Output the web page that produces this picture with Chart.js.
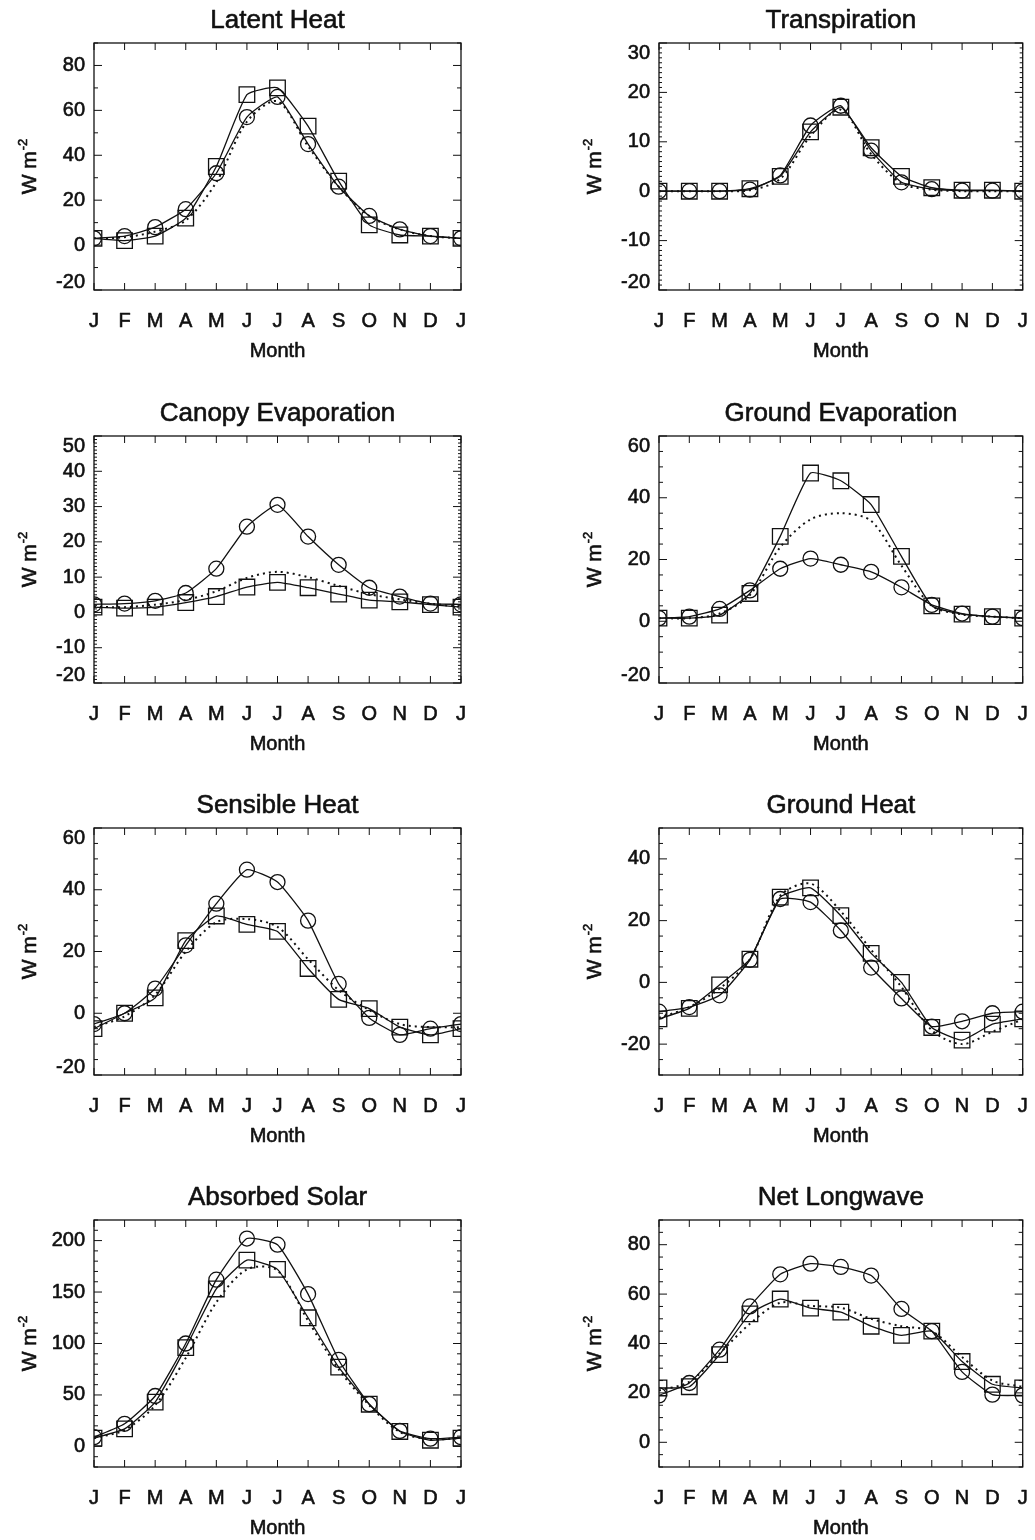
<!DOCTYPE html>
<html>
<head>
<meta charset="utf-8">
<script src="https://cdn.jsdelivr.net/npm/chart.js@4.4.1/dist/chart.umd.min.js"></script>
<style>
  html, body { margin: 0; padding: 0; background: #fff; }
  #page { position: relative; width: 1035px; height: 1540px; overflow: hidden; }
  #page canvas { position: absolute; }
</style>
</head>
<body>
<div id="page"></div>
<script>
const months = ['J', 'F', 'M', 'A', 'M', 'J', 'J', 'A', 'S', 'O', 'N', 'D', 'J'];

// monthly means, Jan .. Dec and Jan again; circles, squares, dotted curve
const latentCircle = [3, 4, 8, 16, 32, 57, 66, 45, 26, 13, 7, 4, 3];
const latentSquare = [3, 2, 4, 12, 35, 67, 70, 53, 28.5, 9, 4.5, 4, 3];
const latentDotted = [3, 3.5, 6, 11, 28, 55, 64, 44, 26, 13, 7, 4, 3];

const transpCircle = [0, 0, 0, 0.3, 3.2, 13.3, 17.3, 8.2, 1.8, 0.4, 0.1, 0.1, 0];
const transpSquare = [0, 0, 0, 0.5, 3, 12, 17, 8.8, 3, 0.7, 0.2, 0.2, 0];
const transpDotted = [0, 0, 0, 0.2, 2.5, 11.2, 16.5, 7.5, 1.6, 0.3, 0, 0, 0];

const canopyCircle = [2.3, 2.5, 3.3, 5.5, 12.4, 24.3, 30.5, 21.5, 13.5, 7, 4.5, 2.5, 2.3];
const canopySquare = [1.5, 1.2, 1.5, 2.8, 4.5, 7.2, 8.5, 7, 5.2, 3.5, 3, 2.2, 1.5];
const canopyDotted = [1.6, 1.5, 2.2, 3.5, 6, 9.8, 11.5, 10, 7.5, 5.2, 3.7, 2.5, 1.6];

const groundEvapCircle = [1, 1.5, 4, 10, 17, 20.3, 18.3, 16, 11, 5.3, 2.5, 1.5, 1];
const groundEvapSquare = [1, 1, 2, 9, 27.5, 48, 45.5, 37.8, 21, 5, 2.3, 1.5, 1];
const groundEvapDotted = [1, 1, 2.5, 8.5, 24, 33, 35, 32.5, 18, 5, 2.2, 1.5, 1];

const sensibleCircle = [-3.5, 0, 8, 22, 35.5, 46.5, 42.5, 30, 9.5, -1.5, -7, -5, -3.5];
const sensibleSquare = [-5, 0, 5, 23.5, 31.5, 28.8, 26.5, 14.5, 4.5, 1.5, -4.5, -7, -5];
const sensibleDotted = [-4.5, -1, 6, 20, 29.5, 30.5, 28, 17.5, 7.5, 1, -3.5, -4.5, -4.5];

const groundHeatCircle = [-9.5, -8, -4.2, 7.3, 27, 26, 16.8, 4.8, -5.2, -14.3, -12.6, -10, -9.5];
const groundHeatSquare = [-11.8, -8.4, -0.8, 7.5, 27.6, 30.6, 21.6, 9.4, 0, -14.6, -18.7, -13.5, -11.8];
const groundHeatDotted = [-11.5, -8, -2, 7.5, 28, 32, 23, 10.5, -1.5, -15.5, -20, -16, -12];

const solarCircle = [9, 22, 49, 100, 162, 202, 196, 148, 84, 41, 15, 7.5, 9];
const solarSquare = [8, 17, 43, 96, 153, 181, 172, 125, 77, 41, 14.5, 6, 8];
const solarDotted = [8, 16, 40, 86, 140, 172, 171, 122, 75, 40, 14, 7, 8];

const longwaveCircle = [19, 24, 37.5, 55, 68, 72.3, 71, 67.5, 54, 45, 28.5, 19.3, 19];
const longwaveSquare = [22, 22.5, 35.5, 52, 58, 54.3, 52.7, 47, 43.3, 45, 32.7, 23.5, 22];
const longwaveDotted = [21, 24.5, 36, 48, 56.5, 55.2, 54.5, 50, 47, 45, 34.5, 25, 22.5];

const panels = [
  { title: 'Latent Heat', col: 0, row: 0, yMin: -20, yMax: 90, major: 20, minor: 10,
    circle: latentCircle, square: latentSquare, dotted: latentDotted },
  { title: 'Transpiration', col: 1, row: 0, yMin: -20, yMax: 30, major: 10, minor: 1,
    circle: transpCircle, square: transpSquare, dotted: transpDotted },
  { title: 'Canopy Evaporation', col: 0, row: 1, yMin: -20, yMax: 50, major: 10, minor: 1,
    circle: canopyCircle, square: canopySquare, dotted: canopyDotted },
  { title: 'Ground Evaporation', col: 1, row: 1, yMin: -20, yMax: 60, major: 20, minor: 5,
    circle: groundEvapCircle, square: groundEvapSquare, dotted: groundEvapDotted },
  { title: 'Sensible Heat', col: 0, row: 2, yMin: -20, yMax: 60, major: 20, minor: 5,
    circle: sensibleCircle, square: sensibleSquare, dotted: sensibleDotted },
  { title: 'Ground Heat', col: 1, row: 2, yMin: -30, yMax: 50, major: 20, minor: 5,
    circle: groundHeatCircle, square: groundHeatSquare, dotted: groundHeatDotted },
  { title: 'Absorbed Solar', col: 0, row: 3, yMin: -20, yMax: 220, major: 50, minor: 10,
    circle: solarCircle, square: solarSquare, dotted: solarDotted },
  { title: 'Net Longwave', col: 1, row: 3, yMin: -10, yMax: 90, major: 20, minor: 5,
    circle: longwaveCircle, square: longwaveSquare, dotted: longwaveDotted }
];

const ink = '#111';
const font = '"Liberation Sans", Arial, Helvetica, sans-serif';

// plot box placement on the page
const boxLeft = [94, 659];
const boxTop = [43, 436, 828, 1220];
const boxW = 367, boxH = 247;
const canvasH = 390;

// filled text with a thin outline so it reads as heavy as the printed labels
function inkText(ctx, s, x, y) {
  ctx.fillText(s, x, y);
  ctx.strokeText(s, x, y);
}

// IDL-style frame: box, inward ticks on all four sides, labels and titles
const framePlugin = {
  id: 'frame',
  afterDraw(chart, args, opts) {
    const { ctx, chartArea: a } = chart;
    const xs = chart.scales.x, ys = chart.scales.y;
    ctx.save();
    ctx.strokeStyle = ink;
    ctx.fillStyle = ink;
    ctx.lineWidth = 1.3;
    ctx.strokeRect(a.left, a.top, a.width, a.height);

    const seg = (x1, y1, x2, y2) => {
      ctx.beginPath(); ctx.moveTo(x1, y1); ctx.lineTo(x2, y2); ctx.stroke();
    };

    // month ticks
    ctx.lineWidth = 1;
    months.forEach((m, i) => {
      const px = xs.getPixelForValue(i);
      seg(px, a.bottom, px, a.bottom - 7);
      seg(px, a.top, px, a.top + 7);
    });

    // value ticks
    const { major, minor } = opts;
    const n = Math.round((ys.max - ys.min) / minor);
    for (let k = 0; k <= n; k++) {
      const v = ys.min + k * minor;
      const py = ys.getPixelForValue(v);
      const isMajor = Math.abs(v / major - Math.round(v / major)) < 1e-6;
      const len = isMajor ? 8 : (minor < 2 ? 3 : 4);
      seg(a.left, py, a.left + len, py);
      seg(a.right, py, a.right - len, py);
    }

    ctx.lineWidth = 0.6;
    ctx.lineJoin = 'round';

    // month labels
    ctx.font = '20px ' + font;
    ctx.textAlign = 'center';
    ctx.textBaseline = 'alphabetic';
    months.forEach((m, i) => inkText(ctx, m, xs.getPixelForValue(i), a.bottom + 37));
    inkText(ctx, 'Month', (a.left + a.right) / 2, a.bottom + 67);

    // value labels, the ones on the box edge pulled inside
    ctx.textAlign = 'right';
    ctx.textBaseline = 'middle';
    for (let v = Math.ceil(ys.min / major) * major; v <= ys.max + 1e-6; v += major) {
      let py = ys.getPixelForValue(v);
      py = Math.min(Math.max(py, a.top + 10), a.bottom - 8);
      inkText(ctx, String(v), a.left - 9, py);
    }

    // title
    ctx.font = '26px ' + font;
    ctx.textAlign = 'center';
    ctx.textBaseline = 'alphabetic';
    inkText(ctx, opts.title, (a.left + a.right) / 2, a.top - 15);

    // unit label, W m^-2, rotated
    ctx.translate(a.left - 58, (a.top + a.bottom) / 2);
    ctx.rotate(-Math.PI / 2);
    ctx.font = '21px ' + font;
    const base = 'W m';
    const wBase = ctx.measureText(base).width;
    ctx.font = '13px ' + font;
    const wSup = ctx.measureText('-2').width;
    const x0 = -(wBase + wSup + 1) / 2;
    ctx.textAlign = 'left';
    ctx.font = '21px ' + font;
    inkText(ctx, base, x0, 0);
    ctx.font = '13px ' + font;
    inkText(ctx, '-2', x0 + wBase + 1, -9);
    ctx.restore();
  }
};

const page = document.getElementById('page');

panels.forEach(p => {
  const cLeft = p.col ? 517 : 0;
  const cW = p.col ? 518 : 517;
  const padLeft = boxLeft[p.col] - cLeft;
  const canvas = document.createElement('canvas');
  canvas.width = cW;
  canvas.height = canvasH;
  canvas.style.left = cLeft + 'px';
  canvas.style.top = (boxTop[p.row] - 43) + 'px';
  canvas.style.width = cW + 'px';
  canvas.style.height = canvasH + 'px';
  page.appendChild(canvas);

  new Chart(canvas.getContext('2d'), {
    type: 'line',
    data: {
      labels: months,
      datasets: [
        {
          data: p.dotted,
          borderColor: ink,
          borderWidth: 2,
          borderDash: [2, 4],
          pointRadius: 0,
          tension: 0.3,
          clip: 0
        },
        {
          data: p.square,
          borderColor: ink,
          borderWidth: 1.3,
          pointStyle: 'rect',
          pointRadius: 11,
          pointBorderWidth: 1.3,
          pointBorderColor: ink,
          pointBackgroundColor: 'rgba(0,0,0,0)',
          tension: 0.15,
          clip: 0
        },
        {
          data: p.circle,
          borderColor: ink,
          borderWidth: 1.3,
          pointStyle: 'circle',
          pointRadius: 7.5,
          pointBorderWidth: 1.3,
          pointBorderColor: ink,
          pointBackgroundColor: 'rgba(0,0,0,0)',
          tension: 0.15,
          clip: 0
        }
      ]
    },
    options: {
      responsive: false,
      animation: false,
      events: [],
      layout: {
        padding: {
          left: padLeft,
          top: 43,
          right: cW - padLeft - boxW,
          bottom: canvasH - 43 - boxH
        }
      },
      scales: {
        x: { type: 'category', offset: false, display: false },
        y: { type: 'linear', min: p.yMin, max: p.yMax, display: false }
      },
      plugins: {
        legend: { display: false },
        tooltip: { enabled: false },
        frame: { title: p.title, major: p.major, minor: p.minor }
      }
    },
    plugins: [framePlugin]
  });
});
</script>
</body>
</html>
